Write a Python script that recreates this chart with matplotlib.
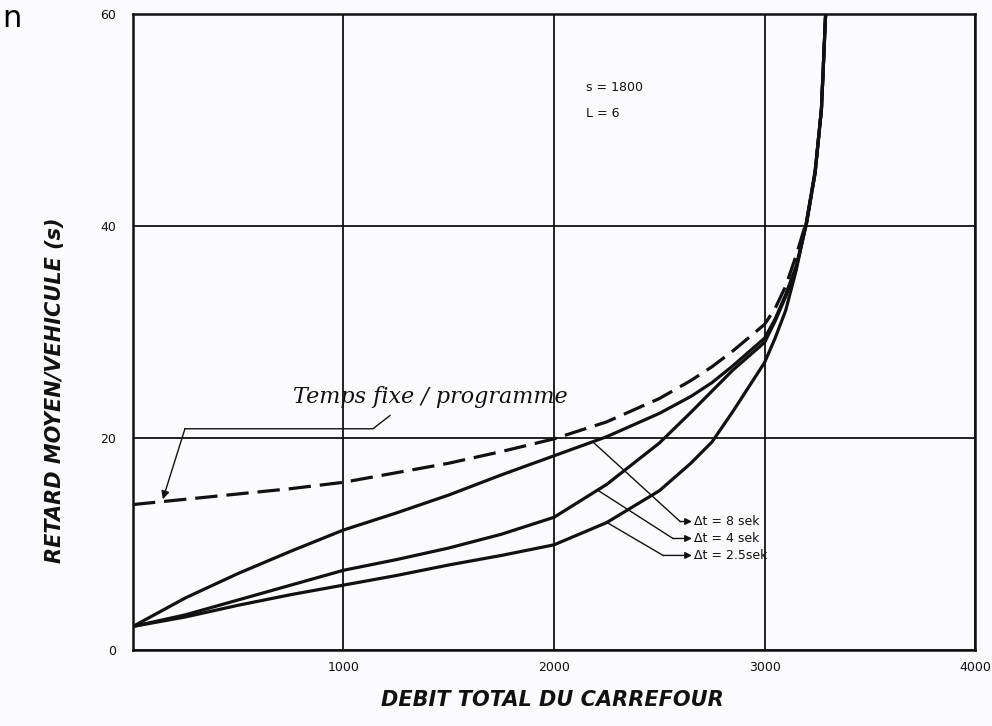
import matplotlib.pyplot as plt
import numpy as np

# Debit total du carrefour (veh/h) and mean delay per vehicle (s)
debit = [0, 250, 500, 750, 1000, 1250, 1500, 1750, 2000, 2250, 2500, 2650,
         2750, 2850, 3000, 3050, 3100, 3150, 3200, 3240, 3270, 3290]

retard_fixe = [13.7, 14.2, 14.7, 15.2, 15.8, 16.7, 17.6, 18.7, 19.9, 21.5, 23.7, 25.4,
               26.7, 28.2, 30.7, 32.2, 34.3, 37.2, 40.5, 45.0, 51.0, 60.0]
retard_8 = [2.2, 4.9, 7.2, 9.3, 11.3, 12.9, 14.6, 16.5, 18.3, 20.1, 22.3, 23.9,
            25.2, 26.8, 29.4, 31.2, 33.5, 36.2, 40.3, 45.0, 51.0, 60.0]
retard_4 = [2.2, 3.3, 4.7, 6.1, 7.5, 8.5, 9.6, 10.9, 12.5, 15.6, 19.5, 22.4,
            24.4, 26.4, 29.0, 31.0, 33.3, 36.0, 40.3, 45.0, 51.0, 60.0]
retard_25 = [2.2, 3.1, 4.2, 5.2, 6.1, 7.0, 8.0, 8.9, 9.9, 12.0, 15.0, 17.6,
             19.6, 22.5, 27.1, 29.4, 32.0, 35.8, 40.5, 45.2, 51.0, 60.0]

x_ticks = [1000, 2000, 3000, 4000]
y_ticks = [0, 20, 40, 60]
dt_labels = ["8 sek", "4 sek", "2.5sek"]

ink = "#111111"

fig = plt.figure(figsize=(9.92, 7.26), dpi=100)
fig.patch.set_facecolor("#fbfbfd")
ax = fig.add_axes([0.134, 0.105, 0.849, 0.876])
ax.set_facecolor("#fbfbfd")

ax.set_xlim(0, 4000)
ax.set_ylim(0, 60)
ax.set_xticks(x_ticks)
ax.set_yticks(y_ticks)
ax.set_xticklabels([str(t) for t in x_ticks])
ax.set_yticklabels([str(t) for t in y_ticks])
ax.tick_params(axis="x", length=0, labelsize=9, colors=ink, pad=8)
ax.tick_params(axis="y", length=0, labelsize=9, colors=ink, pad=12)
ax.grid(True, color=ink, linewidth=1.3)
for sp in ax.spines.values():
    sp.set_linewidth(1.8)
    sp.set_color(ink)

ax.plot(debit, retard_fixe, color=ink, lw=2.3, dashes=(7, 2.8))
ax.plot(debit, retard_8, color=ink, lw=2.3)
ax.plot(debit, retard_4, color=ink, lw=2.3)
ax.plot(debit, retard_25, color=ink, lw=2.3)

# parameters
ax.text(2150, 53.0, "s = 1800", fontsize=9, color=ink, va="center")
ax.text(2150, 50.6, "L = 6", fontsize=9, color=ink, va="center")

# fixed-time annotation with bracket and arrow
ax.text(1411, 23.8, "Temps fixe / programme", fontsize=16, style="italic",
        family="DejaVu Serif", color=ink, ha="center", va="center")
ax.plot([247, 1140, 1221], [20.85, 20.85, 22.1], color=ink, lw=1.0)
ax.annotate("", xy=(142, 14.2), xytext=(247, 20.85),
            arrowprops=dict(arrowstyle="-|>", color=ink, lw=1.0,
                            mutation_scale=12, shrinkA=0, shrinkB=0))

# leaders to the delta-t labels
leader_start = [(2185, 19.6), (2204, 15.1), (2252, 12.0)]
leader_bend = [(2599, 12.1), (2565, 10.5), (2518, 8.9)]
for (x0, y0), (x1, y1), lab in zip(leader_start, leader_bend, dt_labels):
    ax.plot([x0, x1], [y0, y1], color=ink, lw=1.0)
    ax.annotate("", xy=(2655, y1), xytext=(x1, y1),
                arrowprops=dict(arrowstyle="-|>", color=ink, lw=1.0,
                                mutation_scale=10, shrinkA=0, shrinkB=0))
    ax.text(2665, y1, "\u0394t = " + lab, fontsize=9, color=ink, va="center")

fig.text(0.055, 1 - 390 / 726, "RETARD MOYEN/VEHICULE (s)", rotation=90,
         fontsize=15, fontweight="bold", style="italic", color=ink,
         ha="center", va="center")
fig.text(552 / 992, 1 - 700 / 726, "DEBIT TOTAL DU CARREFOUR",
         fontsize=15, fontweight="bold", style="italic", color=ink,
         ha="center", va="center")
fig.text(0.002, 1 - 27 / 726, "n", fontsize=22, color="black", va="baseline")

fig.savefig("out.png", dpi=100, facecolor=fig.get_facecolor())
